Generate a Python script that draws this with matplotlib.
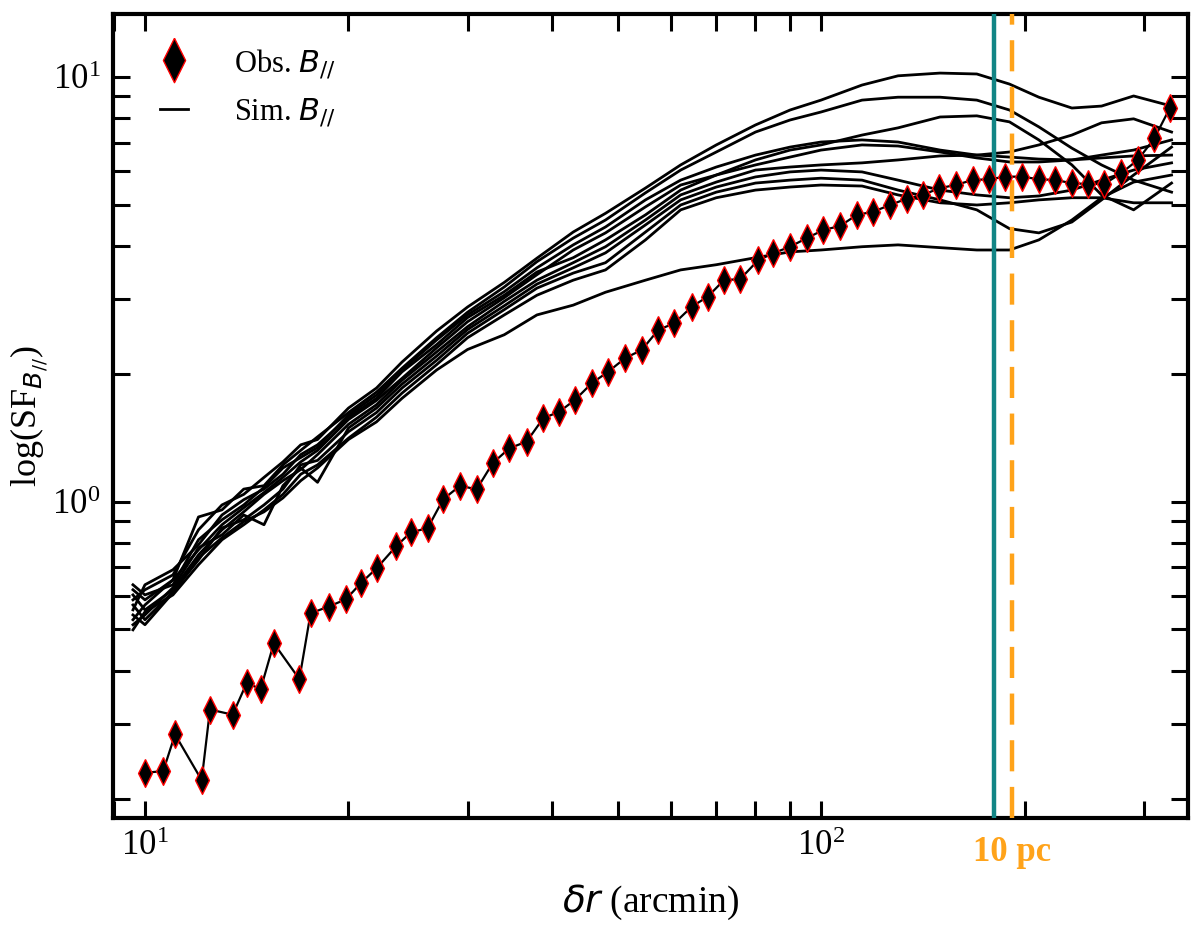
import numpy as np
import matplotlib
matplotlib.use("Agg")
import matplotlib.pyplot as plt
from matplotlib.ticker import NullFormatter, LogLocator

plt.rcParams['font.family'] = 'serif'
plt.rcParams['font.serif'] = ['Liberation Serif', 'DejaVu Serif']

# ---- observed structure function (diamonds)
obs_dr = [10.0, 10.64, 11.08, 12.13, 12.48, 13.48, 14.14, 14.83, 15.51, 16.92,
          17.58, 18.70, 19.83, 20.87, 22.02, 23.51, 24.72, 26.19, 27.62, 29.24,
          30.95, 32.68, 34.59, 36.69, 38.83, 41.02, 43.26, 45.8, 48.45, 51.3,
          54.3, 57.45, 60.7, 64.4, 68.0, 71.9, 75.9, 80.8, 85.0, 90.0,
          95.2, 100.8, 106.7, 112.9, 119.5, 126.5, 133.8, 141.4, 149.6, 158.4,
          167.6, 177.4, 187.4, 198.3, 209.9, 222.1, 235.1, 248.1, 262.5, 277.8,
          294.1, 311.2, 328.3]
obs_sf = [0.230, 0.232, 0.283, 0.221, 0.324, 0.315, 0.374, 0.362, 0.464, 0.382,
          0.546, 0.566, 0.589, 0.643, 0.697, 0.784, 0.846, 0.866, 1.013, 1.089,
          1.069, 1.231, 1.335, 1.384, 1.571, 1.628, 1.735, 1.899, 2.022, 2.175,
          2.275, 2.535, 2.630, 2.876, 3.037, 3.324, 3.337, 3.705, 3.842, 3.981,
          4.167, 4.358, 4.453, 4.727, 4.813, 4.990, 5.161, 5.268, 5.465, 5.564,
          5.715, 5.737, 5.818, 5.818, 5.737, 5.715, 5.614, 5.592, 5.592, 5.926,
          6.368, 7.161, 8.455]

# ---- simulated curves
sim_dr = [9.6, 10, 11, 12, 13, 14, 15, 16, 17, 18, 20, 22, 24, 27, 30, 34, 38, 43,
          48, 55, 62, 70, 80, 90, 100, 115, 130, 150, 170, 190, 210, 235, 260, 290, 330]

sim_a = [0.587, 0.620, 0.672, 0.858, 0.982, 1.04, 1.14, 1.24, 1.36, 1.40, 1.66, 1.85,
         2.13, 2.52, 2.87, 3.28, 3.74, 4.31, 4.77, 5.47, 6.20, 6.91, 7.70, 8.35, 8.81,
         9.56, 10.05, 10.2, 10.15, 9.61, 8.95, 8.44, 8.53, 9.01, 8.53]
sim_b = [0.620, 0.587, 0.654, 0.920, 0.956, 1.07, 1.09, 1.22, 1.32, 1.42, 1.62, 1.81,
         2.06, 2.43, 2.79, 3.20, 3.67, 4.17, 4.60, 5.33, 6.03, 6.65, 7.41, 7.91, 8.26,
         8.81, 8.95, 8.95, 8.81, 8.35, 7.62, 6.79, 6.20, 5.71, 5.35]
sim_c = [0.556, 0.637, 0.691, 0.791, 0.930, 1.01, 1.07, 1.16, 1.29, 1.36, 1.58, 1.75,
         2.02, 2.34, 2.71, 3.06, 3.47, 3.75, 4.13, 4.73, 5.41, 5.87, 6.37, 6.72, 6.91,
         7.29, 7.58, 8.04, 8.09, 7.83, 7.10, 6.20, 5.27, 4.86, 5.62]
sim_d = [0.637, 0.603, 0.637, 0.813, 0.906, 0.982, 1.08, 1.20, 1.27, 1.34, 1.60, 1.78,
         2.04, 2.40, 2.75, 3.12, 3.55, 4.02, 4.43, 5.13, 5.71, 6.13, 6.54, 6.83, 7.02,
         7.10, 7.02, 6.72, 6.54, 6.65, 6.91, 7.29, 7.79, 7.96, 7.41]
sim_e = [0.527, 0.571, 0.654, 0.770, 0.882, 0.967, 1.05, 1.14, 1.24, 1.32, 1.56, 1.73,
         1.95, 2.30, 2.65, 3.02, 3.42, 3.91, 4.29, 4.94, 5.56, 5.87, 6.20, 6.47, 6.72,
         6.91, 6.87, 6.65, 6.44, 6.30, 6.30, 6.37, 6.54, 6.72, 7.10]
sim_f = [0.603, 0.556, 0.620, 0.749, 0.858, 0.946, 1.04, 1.12, 1.19, 1.29, 1.52, 1.69,
         1.93, 2.25, 2.58, 2.96, 3.32, 3.65, 3.98, 4.60, 5.27, 5.65, 6.03, 6.13, 6.20,
         6.27, 6.37, 6.51, 6.54, 6.47, 6.40, 6.37, 6.44, 6.51, 6.54]
sim_g = [0.513, 0.541, 0.627, 0.778, 0.835, 0.930, 0.882, 1.09, 1.20, 1.11, 1.49, 1.66,
         1.89, 2.20, 2.54, 2.89, 3.25, 3.55, 3.85, 4.48, 5.13, 5.50, 5.81, 5.97, 6.03,
         5.97, 5.71, 5.41, 5.27, 5.19, 5.24, 5.41, 5.71, 6.03, 6.27]
sim_h = [0.571, 0.527, 0.613, 0.729, 0.867, 0.906, 0.982, 1.07, 1.22, 1.25, 1.46, 1.62,
         1.85, 2.15, 2.49, 2.83, 3.18, 3.45, 3.65, 4.31, 4.99, 5.35, 5.62, 5.71, 5.77,
         5.71, 5.41, 5.13, 4.86, 4.39, 4.29, 4.55, 5.13, 5.87, 6.83]
sim_i = [0.499, 0.550, 0.603, 0.710, 0.813, 0.882, 0.956, 1.04, 1.16, 1.22, 1.41, 1.58,
         1.80, 2.10, 2.43, 2.75, 3.06, 3.32, 3.51, 4.13, 4.86, 5.19, 5.41, 5.50, 5.56,
         5.53, 5.27, 5.05, 4.99, 5.05, 5.13, 5.19, 5.19, 5.05, 5.05]
sim_j = [0.541, 0.513, 0.610, 0.737, 0.822, 0.897, 0.946, 1.02, 1.12, 1.20, 1.40, 1.54,
         1.75, 2.04, 2.28, 2.47, 2.75, 2.90, 3.11, 3.32, 3.51, 3.61, 3.75, 3.87, 3.91,
         3.98, 4.02, 3.96, 3.91, 3.91, 4.13, 4.60, 5.19, 5.65, 5.87]
sims = [sim_a, sim_b, sim_c, sim_d, sim_e, sim_f, sim_g, sim_h, sim_i, sim_j]

# scale markers (arcmin)
teal_dr = 180.0
pc10_dr = 191.5

orange = '#FFA31A'
teal = '#128585'

# diamond marker, half as wide as tall
diamond = [(0, 1), (0.5, 0), (0, -1), (-0.5, 0), (0, 1)]

fig = plt.figure(figsize=(12, 9.33), dpi=100)
ax = fig.add_axes([0.0942, 0.1233, 0.8958, 0.8617])

for k, s in enumerate(sims):
    ax.plot(sim_dr, s, color='black', lw=2.0, zorder=2,
            label=r'Sim. $B_{//}$' if k == 0 else None)

ax.axvline(teal_dr, color=teal, lw=3.2, zorder=3)
ax.axvline(pc10_dr, color=orange, lw=3.2, dashes=(7, 3.5), zorder=3)

ax.plot(obs_dr, obs_sf, color='black', lw=1.6, zorder=4)
ax.plot(obs_dr, obs_sf, ls='none', marker=diamond, ms=20, mfc='black',
        mec='red', mew=1.0, zorder=5, label=r'Obs. $B_{//}$')

ax.set_xscale('log')
ax.set_yscale('log')
ax.set_xlim(8.97, 349)
ax.set_ylim(0.180, 14.05)

for axis in (ax.xaxis, ax.yaxis):
    axis.set_minor_locator(LogLocator(base=10, subs=np.arange(2, 10)))
    axis.set_minor_formatter(NullFormatter())

ax.tick_params(which='both', direction='in', top=True, right=True,
               length=12, width=2.2, labelsize=25, pad=9)
for sp in ax.spines.values():
    sp.set_linewidth(3)

ax.text(pc10_dr, -0.022, '10 pc', transform=ax.get_xaxis_transform(),
        ha='center', va='top', color=orange, fontsize=25, fontweight='bold')

ax.set_xlabel(r'$\delta r$ (arcmin)', fontsize=27, labelpad=14)
ax.set_ylabel(r'log(SF$_{B_{//}}$)', fontsize=26, labelpad=2)

handles, labels = ax.get_legend_handles_labels()
order = [labels.index(r'Obs. $B_{//}$'), labels.index(r'Sim. $B_{//}$')]
ax.legend([handles[i] for i in order], [labels[i] for i in order],
          loc='upper left', bbox_to_anchor=(0.01, 1.005), frameon=False,
          fontsize=22, markerscale=1.6, handlelength=0.9, handletextpad=1.5,
          labelspacing=0.55, borderaxespad=0.8)

fig.savefig('out.png', dpi=100)
